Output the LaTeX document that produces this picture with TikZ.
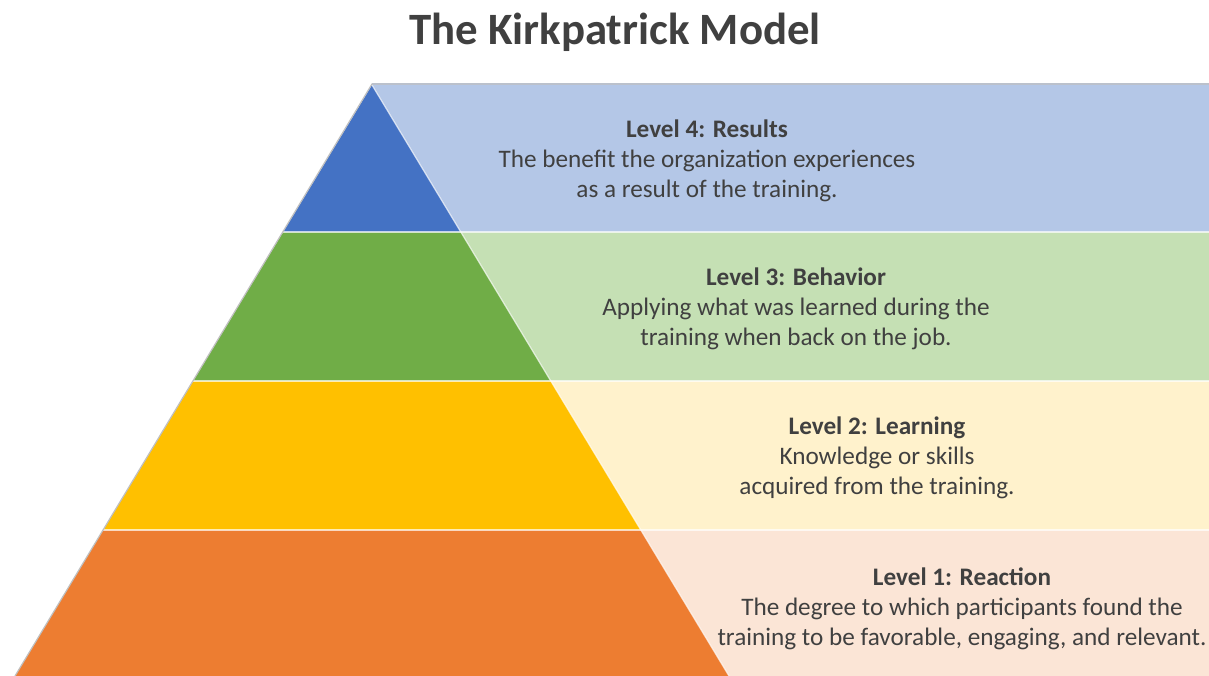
\documentclass[tikz,border=0pt]{standalone}
\usepackage{fontspec}
\setmainfont{Carlito}
\usepackage{tikz}

\definecolor{inktext}{HTML}{404040}
\definecolor{edgegrey}{HTML}{BFBFBF}
\definecolor{blueD}{HTML}{4472C4}
\definecolor{blueL}{HTML}{B4C7E7}
\definecolor{greenD}{HTML}{70AD47}
\definecolor{greenL}{HTML}{C5E0B4}
\definecolor{goldD}{HTML}{FFC000}
\definecolor{goldL}{HTML}{FFF2CC}
\definecolor{orangeD}{HTML}{ED7D31}
\definecolor{orangeL}{HTML}{FBE5D6}

\tikzset{
  leveltext/.style={text=inktext, align=center, inner sep=0pt,
    font=\fontsize{25.3}{30}\selectfont},
  titletext/.style={text=inktext, inner sep=0pt,
    font=\fontsize{45}{50}\selectfont\bfseries}
}

\begin{document}
\begin{tikzpicture}[x=1bp,y=-1bp]
\useasboundingbox (0,0) rectangle (1209,676);
\fill[white] (0,0) rectangle (1209,676);

% light panels behind the pyramid
\foreach \ytop/\ybot/\light in {83/232/blueL,232/381/greenL,381/530/goldL,530/676/orangeL} {
\fill[\light] (372,\ytop) rectangle (1209,\ybot);
}

% pyramid bands
\fill[blueD] (372,85) -- (460.8,232) -- (283.2,232) -- cycle;
\foreach \ytop/\ybot/\xlt/\xrt/\xlb/\xrb/\dark in {
  232/381/283.2/460.8/193.2/550.8/greenD,
  381/530/193.2/550.8/103.2/640.8/goldD,
  530/676/103.2/640.8/15.0/729.0/orangeD} {
\fill[\dark] (\xlt,\ytop) -- (\xrt,\ytop) -- (\xrb,\ybot) -- (\xlb,\ybot) -- cycle;
}

% separators and outline
\foreach \y/\xl in {232/283.2,381/193.2,530/103.2} {
\draw[white, opacity=0.7, line width=1.2bp] (\xl,\y) -- (1209,\y);
}
\draw[white, opacity=0.7, line width=1.2bp] (372,85) -- (729,676);
\draw[edgegrey, line width=1.2bp] (15,676) -- (372,84) -- (1209,84);

% texts
\node[titletext] (title) at (615,32) {The Kirkpatrick Model};
\node[leveltext] (lvl4) at (707,161) {\textbf{Level 4: Results}\\The benefit the organization experiences\\as a result of the training.};
\node[leveltext] (lvl3) at (796,309) {\textbf{Level 3: Behavior}\\Applying what was learned during the\\training when back on the job.};
\node[leveltext] (lvl2) at (877,458) {\textbf{Level 2: Learning}\\Knowledge or skills\\acquired from the training.};
\node[leveltext] (lvl1) at (962,609) {\textbf{Level 1: Reaction}\\The degree to which participants found the\\training to be favorable, engaging, and relevant.};

\end{tikzpicture}
\end{document}
